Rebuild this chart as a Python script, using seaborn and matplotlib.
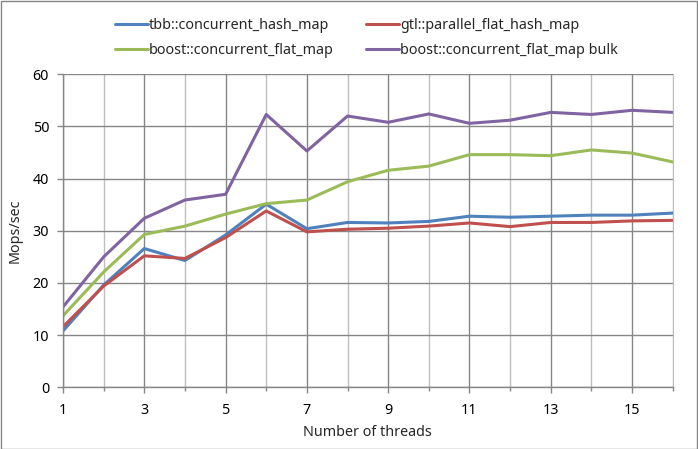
import numpy as np
import pandas as pd
import matplotlib
matplotlib.use("Agg")
import matplotlib.pyplot as plt
from matplotlib.patches import Rectangle
from matplotlib.ticker import MultipleLocator, FixedLocator
import seaborn as sns

# data
threads = list(range(1, 17))
tbb = [10.8, 19.6, 26.6, 24.3, 29.2, 35.1, 30.4, 31.6, 31.5, 31.8, 32.8, 32.6, 32.8, 33.0, 33.0, 33.4]
gtl = [11.6, 19.4, 25.2, 24.7, 28.7, 33.8, 29.8, 30.3, 30.5, 30.9, 31.5, 30.8, 31.6, 31.6, 31.9, 32.0]
boost = [13.7, 22.1, 29.3, 30.9, 33.2, 35.2, 35.9, 39.4, 41.6, 42.4, 44.6, 44.6, 44.4, 45.5, 44.9, 43.2]
boost_bulk = [15.4, 25.0, 32.4, 35.9, 37.0, 52.3, 45.3, 52.0, 50.8, 52.4, 50.6, 51.2, 52.7, 52.3, 53.1, 52.7]

names = ["tbb::concurrent_hash_map", "gtl::parallel_flat_hash_map",
         "boost::concurrent_flat_map", "boost::concurrent_flat_map bulk"]
colors = ["#4F81BD", "#C0504D", "#9BBB59", "#8064A2"]

df = pd.DataFrame({
    "threads": threads * 4,
    "mops": tbb + gtl + boost + boost_bulk,
    "series": sum([[n] * len(threads) for n in names], []),
})

sns.set_style("white")
plt.rcParams["font.family"] = ["Noto Sans", "DejaVu Sans"]
fs = 10.3

fig = plt.figure(figsize=(6.98, 4.49), dpi=100)
ax = fig.add_axes([63 / 698, (449 - 387.3) / 449, (672.7 - 63) / 698, (387.3 - 74.3) / 449])

sns.lineplot(data=df, x="threads", y="mops", hue="series", hue_order=names,
             palette=colors, linewidth=2.2, ax=ax, legend=False)

ax.set_xlim(1, 16)
ax.set_ylim(0, 60)
ax.xaxis.set_major_locator(FixedLocator([t for t in threads if t % 2 == 1]))
ax.xaxis.set_minor_locator(FixedLocator([t for t in threads if t % 2 == 0]))
ax.yaxis.set_major_locator(MultipleLocator(10))
ax.grid(which="major", axis="both", color="#868686", linewidth=1)
ax.grid(which="minor", axis="x", color="#BEBEBE", linewidth=1)
ax.set_axisbelow(True)

ax.spines["top"].set_visible(False)
ax.spines["right"].set_color("#BEBEBE")
for s in ["left", "bottom"]:
    ax.spines[s].set_color("#868686")
    ax.spines[s].set_linewidth(1)

ax.tick_params(which="major", direction="out", length=4, width=1, color="#868686",
               labelcolor="black", labelsize=fs, pad=6, left=True, bottom=True)
ax.tick_params(which="minor", axis="x", direction="out", length=3, width=1,
               color="#868686", bottom=True)
ax.tick_params(axis="x", pad=7)

ax.set_xlabel("Number of threads", fontsize=fs, labelpad=5)
ax.set_ylabel("Mops/sec", fontsize=fs, labelpad=7)

# legend filled row by row: matplotlib fills columns, so reorder
handles = [plt.Line2D([0], [0], color=c, linewidth=2.2) for c in colors]
order = [0, 2, 1, 3]
fig.legend([handles[i] for i in order], [names[i] for i in order], ncol=2,
           loc="upper left", bbox_to_anchor=(102 / 698, 1 - 5 / 449),
           frameon=False, fontsize=fs, handlelength=2.3, handletextpad=0.05,
           columnspacing=2.3, labelspacing=0.7)

fig.patches.append(Rectangle((0.5 / 698, 0.5 / 449), 696 / 698, 447.5 / 449,
                             transform=fig.transFigure, fill=False,
                             edgecolor="#868686", linewidth=1))

fig.savefig("out.png", dpi=100)
